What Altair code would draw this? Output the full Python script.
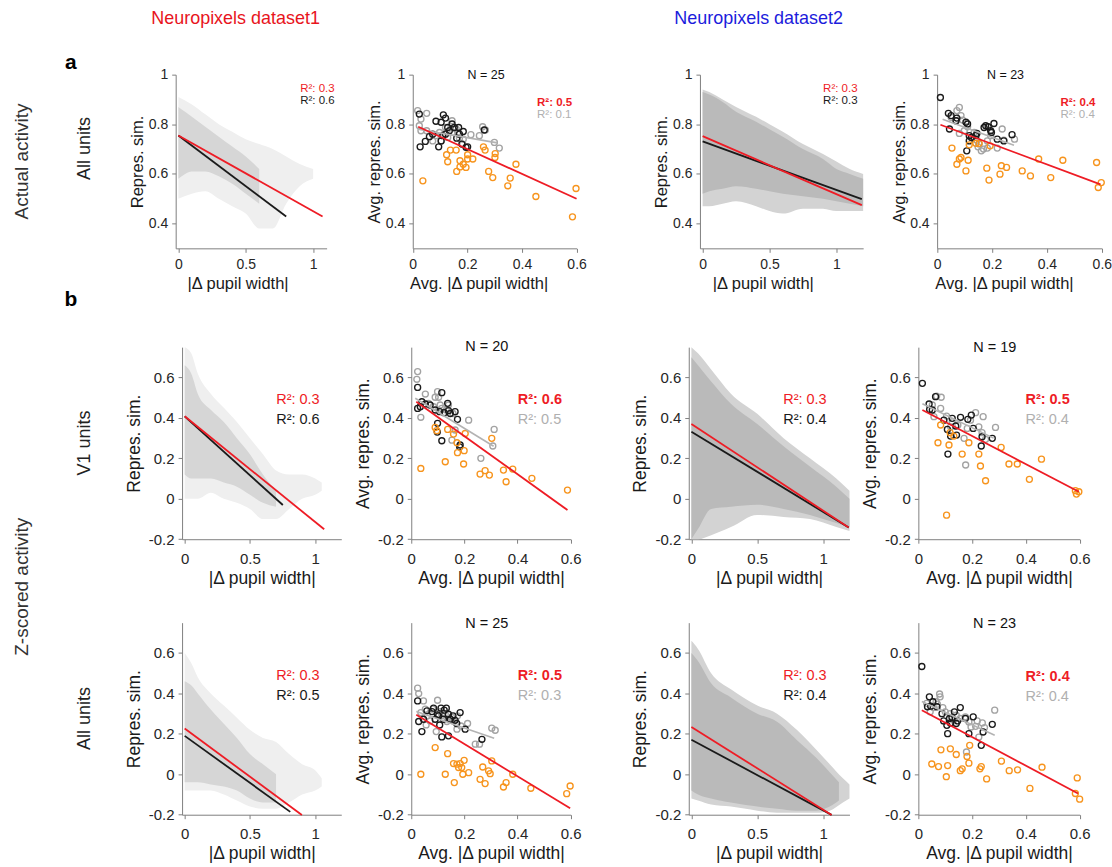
import altair as alt
import pandas as pd

FONT = "Liberation Sans"
RED = "#ee1c25"
BLUE = "#1c1cdc"
ORANGE = "#f7941d"
BLACK = "#1a1a1a"
GREY = "#a3a3a3"
LBL = "(datum.value < 0 ? '-' : '') + format(abs(datum.value), '~g')"

# ---------------- data: row a (actual activity, all units) ----------------
A1_OUT_X = [0, 0.1, 0.2, 0.3, 0.4, 0.5, 0.6, 0.7, 0.8, 0.9, 1.0]
A1_OUT_HI = [0.91, 0.88, 0.84, 0.80, 0.77, 0.74, 0.72, 0.70, 0.67, 0.64, 0.62]
A1_OUT_LO = [0.50, 0.52, 0.53, 0.50, 0.47, 0.44, 0.38, 0.38, 0.48, 0.55, 0.58]
A1_CORE_X = [0, 0.05, 0.1, 0.2, 0.3, 0.4, 0.5, 0.6]
A1_CORE_HI = [0.87, 0.85, 0.83, 0.79, 0.75, 0.71, 0.67, 0.62]
A1_CORE_LO = [0.58, 0.60, 0.61, 0.61, 0.59, 0.56, 0.52, 0.48]
A1_RED = ([0, 1.07], [0.755, 0.428])
A1_BLK = ([0, 0.80], [0.755, 0.428])

A3_X = [0, 0.05, 0.15, 0.25, 0.4, 0.5, 0.6, 0.75, 0.9, 1.0, 1.1, 1.2]
A3_OUT_HI = [0.94, 0.93, 0.90, 0.87, 0.83, 0.80, 0.77, 0.72, 0.68, 0.65, 0.62, 0.60]
A3_OUT_LO = [0.47, 0.47, 0.48, 0.49, 0.47, 0.45, 0.44, 0.46, 0.46, 0.45, 0.45, 0.45]
A3_CORE_HI = [0.93, 0.92, 0.89, 0.85, 0.81, 0.78, 0.75, 0.70, 0.66, 0.62, 0.60, 0.58]
A3_CORE_LO = [0.52, 0.53, 0.54, 0.55, 0.54, 0.53, 0.52, 0.51, 0.50, 0.49, 0.48, 0.47]
A3_RED = ([0, 1.19], [0.752, 0.474])
A3_BLK = ([0, 1.19], [0.731, 0.498])

A2_OR_X = [0.037, 0.124, 0.128, 0.138, 0.159, 0.161, 0.173, 0.173, 0.185, 0.195, 0.201, 0.201, 0.220,
           0.259, 0.265, 0.278, 0.293, 0.301, 0.302, 0.348, 0.357, 0.378, 0.451, 0.585, 0.598]
A2_OR_Y = [0.572, 0.677, 0.649, 0.696, 0.696, 0.610, 0.653, 0.628, 0.639, 0.626, 0.677, 0.660, 0.660,
           0.709, 0.696, 0.610, 0.585, 0.666, 0.682, 0.552, 0.583, 0.639, 0.509, 0.427, 0.541]
A2_BK_X = [0.024, 0.027, 0.046, 0.061, 0.085, 0.095, 0.104, 0.110, 0.112, 0.120, 0.120, 0.128, 0.134,
           0.144, 0.152, 0.161, 0.168, 0.180, 0.185, 0.195, 0.201, 0.262, 0.104, 0.073, 0.171]
A2_BK_Y = [0.841, 0.709, 0.731, 0.750, 0.812, 0.709, 0.808, 0.754, 0.838, 0.825, 0.760, 0.787, 0.774,
           0.801, 0.787, 0.744, 0.787, 0.720, 0.771, 0.707, 0.709, 0.777, 0.733, 0.760, 0.760]
A2_GR_X = [0.018, 0.030, 0.051, 0.030, 0.051, 0.098, 0.104, 0.120, 0.144, 0.146, 0.159, 0.171, 0.185,
           0.213, 0.244, 0.256, 0.266, 0.299, 0.317, 0.073, 0.085, 0.128, 0.183, 0.024, 0.165]
A2_GR_Y = [0.855, 0.821, 0.844, 0.774, 0.774, 0.767, 0.733, 0.787, 0.814, 0.767, 0.781, 0.744, 0.740,
           0.758, 0.754, 0.790, 0.777, 0.727, 0.704, 0.733, 0.754, 0.747, 0.720, 0.794, 0.767]
A2_RED = ([0.02, 0.60], [0.79, 0.50])
A2_GRL = ([0.02, 0.31], [0.78, 0.725])

A4_OR_X = [0.054, 0.072, 0.081, 0.087, 0.105, 0.113, 0.117, 0.141, 0.153, 0.181, 0.189, 0.193, 0.229,
           0.234, 0.253, 0.310, 0.340, 0.370, 0.414, 0.458, 0.581, 0.587, 0.598]
A4_OR_Y = [0.704, 0.639, 0.660, 0.666, 0.612, 0.655, 0.717, 0.723, 0.723, 0.623, 0.575, 0.713, 0.599,
           0.633, 0.626, 0.612, 0.592, 0.660, 0.585, 0.655, 0.646, 0.545, 0.565]
A4_BK_X = [0.012, 0.041, 0.045, 0.051, 0.072, 0.105, 0.108, 0.111, 0.117, 0.125, 0.141, 0.145, 0.171,
           0.177, 0.186, 0.195, 0.198, 0.207, 0.219, 0.243, 0.273, 0.117, 0.069]
A4_BK_Y = [0.908, 0.844, 0.781, 0.835, 0.825, 0.808, 0.693, 0.801, 0.754, 0.747, 0.754, 0.763, 0.787,
           0.794, 0.790, 0.774, 0.767, 0.803, 0.740, 0.733, 0.758, 0.733, 0.814]
A4_GR_X = [0.051, 0.069, 0.081, 0.087, 0.072, 0.093, 0.081, 0.125, 0.145, 0.149, 0.153, 0.161, 0.169,
           0.183, 0.183, 0.219, 0.237, 0.243, 0.282, 0.195, 0.135, 0.111, 0.099]
A4_GR_Y = [0.828, 0.814, 0.868, 0.835, 0.855, 0.817, 0.763, 0.747, 0.736, 0.709, 0.720, 0.693, 0.700,
           0.733, 0.704, 0.704, 0.781, 0.736, 0.740, 0.754, 0.767, 0.790, 0.774]
A4_RED = ([0.012, 0.595], [0.798, 0.558])
A4_GRL = ([0.02, 0.28], [0.82, 0.715])

# ---------------- data: row b (z-scored, V1 units) ----------------
B1_OUT_X = [0, 0.05, 0.1, 0.2, 0.3, 0.4, 0.5, 0.6, 0.7, 0.8, 0.9, 1.0, 1.05]
B1_OUT_HI = [0.75, 0.72, 0.62, 0.52, 0.45, 0.38, 0.30, 0.22, 0.14, 0.12, 0.12, 0.10, 0.08]
B1_OUT_LO = [0.0, 0.0, 0.0, 0.03, 0.0, -0.02, -0.05, -0.10, -0.10, -0.05, 0.0, 0.02, 0.04]
B1_CORE_X = [0, 0.05, 0.1, 0.2, 0.3, 0.4, 0.5, 0.6, 0.7]
B1_CORE_HI = [0.66, 0.62, 0.52, 0.44, 0.38, 0.30, 0.22, 0.12, 0.04]
B1_CORE_LO = [0.12, 0.10, 0.10, 0.10, 0.08, 0.06, 0.02, -0.02, -0.04]
B1_RED = ([0, 1.069], [0.408, -0.151])
B1_BLK = ([0, 0.752], [0.408, -0.031])

B3_X = [0, 0.05, 0.15, 0.3, 0.5, 0.7, 0.9, 1.1, 1.2]
B3_OUT_HI = [0.75, 0.72, 0.64, 0.52, 0.42, 0.30, 0.20, 0.10, 0.04]
B3_OUT_LO = [-0.2, -0.2, -0.18, -0.14, -0.08, -0.09, -0.10, -0.14, -0.16]
B3_CORE_HI = [0.70, 0.66, 0.58, 0.47, 0.37, 0.26, 0.16, 0.06, 0.0]
B3_CORE_LO = [-0.2, -0.15, -0.05, -0.04, -0.03, -0.05, -0.08, -0.12, -0.14]
B3_RED = ([0, 1.194], [0.370, -0.142])
B3_BLK = ([0, 1.194], [0.332, -0.142])

B2_OR_X = [0.036, 0.090, 0.096, 0.128, 0.137, 0.159, 0.172, 0.174, 0.197, 0.199, 0.203, 0.259, 0.278,
           0.294, 0.303, 0.347, 0.357, 0.382, 0.454, 0.588]
B2_OR_Y = [0.150, 0.353, 0.337, 0.183, 0.343, 0.320, 0.277, 0.228, 0.172, 0.238, 0.323, 0.122, 0.139,
           0.117, 0.299, 0.142, 0.084, 0.147, 0.101, 0.043]
B2_BK_X = [0.024, 0.024, 0.040, 0.053, 0.098, 0.099, 0.107, 0.115, 0.115, 0.124, 0.137, 0.140, 0.147,
           0.165, 0.174, 0.184, 0.182, 0.034, 0.071, 0.090]
B2_BK_Y = [0.551, 0.447, 0.480, 0.469, 0.330, 0.373, 0.431, 0.525, 0.287, 0.426, 0.472, 0.436, 0.422,
           0.431, 0.393, 0.266, 0.257, 0.455, 0.464, 0.439]
B2_GR_X = [0.024, 0.021, 0.036, 0.053, 0.090, 0.099, 0.109, 0.115, 0.140, 0.153, 0.165, 0.216, 0.262,
           0.307, 0.312, 0.103, 0.065, 0.132, 0.157, 0.084]
B2_GR_Y = [0.629, 0.591, 0.403, 0.518, 0.502, 0.530, 0.464, 0.447, 0.464, 0.290, 0.340, 0.389, 0.200,
           0.261, 0.343, 0.502, 0.472, 0.439, 0.422, 0.455]
B2_RED = ([0.019, 0.588], [0.48, -0.056])
B2_GRL = ([0.015, 0.31], [0.497, 0.26])

B4_OR_X = [0.073, 0.114, 0.118, 0.132, 0.163, 0.188, 0.225, 0.231, 0.250, 0.308, 0.337, 0.368, 0.413,
           0.458, 0.584, 0.588, 0.597, 0.105, 0.083]
B4_OR_Y = [0.277, 0.266, 0.327, 0.310, 0.221, 0.277, 0.221, 0.162, 0.089, 0.254, 0.172, 0.172, 0.096,
           0.196, 0.040, 0.023, 0.035, -0.081, 0.365]
B4_BK_X = [0.015, 0.040, 0.042, 0.064, 0.108, 0.110, 0.120, 0.126, 0.139, 0.142, 0.157, 0.184, 0.197,
           0.204, 0.234, 0.237, 0.275, 0.095, 0.052]
B4_BK_Y = [0.571, 0.469, 0.442, 0.505, 0.343, 0.221, 0.310, 0.398, 0.360, 0.315, 0.403, 0.393, 0.414,
           0.348, 0.261, 0.307, 0.299, 0.389, 0.439]
B4_GR_X = [0.068, 0.085, 0.083, 0.105, 0.126, 0.147, 0.176, 0.170, 0.182, 0.213, 0.225, 0.237, 0.241,
           0.250, 0.287, 0.052, 0.120, 0.194, 0.058]
B4_GR_Y = [0.508, 0.502, 0.447, 0.409, 0.381, 0.365, 0.167, 0.299, 0.348, 0.426, 0.356, 0.327, 0.406,
           0.294, 0.353, 0.464, 0.356, 0.389, 0.406]
B4_RED = ([0.015, 0.597], [0.439, 0.035])
B4_GRL = ([0.015, 0.28], [0.47, 0.30])

# ---------------- data: row c (z-scored, all units) ----------------
C1_OUT_X = [0, 0.05, 0.1, 0.2, 0.3, 0.4, 0.5, 0.6, 0.7, 0.8, 0.9, 1.0, 1.05]
C1_OUT_HI = [0.60, 0.55, 0.48, 0.40, 0.34, 0.28, 0.22, 0.18, 0.16, 0.10, 0.05, 0.02, -0.02]
C1_OUT_LO = [-0.08, -0.08, -0.08, -0.08, -0.10, -0.13, -0.16, -0.17, -0.17, -0.14, -0.10, -0.08, -0.06]
C1_CORE_X = [0, 0.05, 0.1, 0.2, 0.3, 0.4, 0.5, 0.6, 0.7]
C1_CORE_HI = [0.46, 0.44, 0.40, 0.32, 0.25, 0.18, 0.10, 0.05, 0.0]
C1_CORE_LO = [-0.04, -0.04, -0.04, -0.05, -0.06, -0.08, -0.12, -0.14, -0.14]
C1_RED = ([0, 0.898], [0.226, -0.201])
C1_BLK = ([0, 0.809], [0.190, -0.186])

C3_OUT_X = [0, 0.05, 0.15, 0.3, 0.5, 0.65, 0.8, 0.95, 1.05, 1.15, 1.2]
C3_OUT_HI = [0.66, 0.62, 0.50, 0.42, 0.34, 0.30, 0.22, 0.12, 0.05, -0.02, -0.05]
C3_OUT_LO = [-0.12, -0.13, -0.15, -0.16, -0.18, -0.19, -0.19, -0.19, -0.18, -0.14, -0.12]
C3_CORE_X = [0, 0.05, 0.15, 0.3, 0.5, 0.65, 0.8, 0.95, 1.05, 1.12]
C3_CORE_HI = [0.60, 0.56, 0.45, 0.38, 0.30, 0.26, 0.17, 0.08, 0.01, -0.04]
C3_CORE_LO = [-0.08, -0.10, -0.12, -0.14, -0.16, -0.17, -0.18, -0.18, -0.16, -0.13]
C3_RED = ([0, 1.064], [0.234, -0.201])
C3_BLK = ([0, 1.064], [0.171, -0.201])

C2_OR_X = [0.036, 0.090, 0.128, 0.137, 0.159, 0.162, 0.172, 0.178, 0.184, 0.190, 0.194, 0.199, 0.216,
           0.259, 0.269, 0.278, 0.291, 0.297, 0.303, 0.347, 0.357, 0.382, 0.450, 0.585, 0.598]
C2_OR_Y = [0.000, 0.132, 0.000, 0.102, 0.053, -0.041, 0.050, 0.033, 0.053, 0.033, 0.000, 0.069, 0.008,
           -0.025, 0.036, -0.046, 0.017, 0.003, 0.066, -0.063, -0.041, 0.000, -0.069, -0.096, -0.058]
C2_BK_X = [0.024, 0.028, 0.040, 0.046, 0.078, 0.084, 0.090, 0.099, 0.107, 0.112, 0.115, 0.124, 0.132,
           0.140, 0.140, 0.147, 0.157, 0.165, 0.184, 0.203, 0.266, 0.059, 0.121, 0.171, 0.103]
C2_BK_Y = [0.363, 0.261, 0.211, 0.272, 0.310, 0.327, 0.272, 0.294, 0.244, 0.327, 0.185, 0.317, 0.327,
           0.297, 0.190, 0.272, 0.289, 0.267, 0.305, 0.223, 0.173, 0.314, 0.272, 0.251, 0.289]
C2_GR_X = [0.024, 0.028, 0.046, 0.053, 0.056, 0.081, 0.099, 0.109, 0.115, 0.134, 0.153, 0.172, 0.187,
           0.212, 0.241, 0.257, 0.303, 0.316, 0.094, 0.061, 0.128, 0.159, 0.071, 0.036, 0.174]
C2_GR_Y = [0.426, 0.399, 0.363, 0.322, 0.244, 0.322, 0.366, 0.310, 0.289, 0.261, 0.281, 0.223, 0.239,
           0.251, 0.149, 0.149, 0.228, 0.218, 0.211, 0.289, 0.297, 0.264, 0.264, 0.305, 0.289]
C2_RED = ([0.019, 0.598], [0.294, -0.168])
C2_GRL = ([0.019, 0.312], [0.31, 0.178])

C4_OR_X = [0.050, 0.075, 0.104, 0.109, 0.084, 0.119, 0.141, 0.156, 0.163, 0.181, 0.188, 0.191, 0.229,
           0.234, 0.254, 0.309, 0.338, 0.369, 0.415, 0.460, 0.584, 0.591, 0.600]
C4_OR_Y = [0.051, 0.038, -0.012, 0.043, 0.121, 0.126, 0.098, 0.018, 0.027, 0.088, 0.055, 0.143, 0.027,
           0.038, -0.023, 0.065, 0.018, 0.022, -0.070, 0.035, -0.095, -0.018, -0.123]
C4_BK_X = [0.013, 0.041, 0.046, 0.054, 0.106, 0.109, 0.116, 0.125, 0.134, 0.141, 0.156, 0.188, 0.204,
           0.234, 0.241, 0.275, 0.094, 0.146, 0.069, 0.119, 0.175, 0.088, 0.034]
C4_BK_Y = [0.533, 0.383, 0.337, 0.359, 0.242, 0.201, 0.276, 0.281, 0.309, 0.251, 0.330, 0.201, 0.284,
           0.143, 0.209, 0.247, 0.264, 0.264, 0.334, 0.254, 0.276, 0.300, 0.334]
C4_GR_X = [0.044, 0.056, 0.071, 0.079, 0.081, 0.091, 0.100, 0.119, 0.156, 0.175, 0.179, 0.196, 0.213,
           0.238, 0.225, 0.246, 0.284, 0.188, 0.141, 0.066, 0.031, 0.131, 0.219]
C4_GR_Y = [0.309, 0.330, 0.347, 0.397, 0.383, 0.330, 0.309, 0.300, 0.276, 0.284, 0.110, 0.234, 0.237,
           0.254, 0.184, 0.231, 0.317, 0.259, 0.292, 0.359, 0.351, 0.267, 0.264]
C4_RED = ([0.013, 0.594], [0.317, -0.095])
C4_GRL = ([0.013, 0.284], [0.36, 0.193])

# ---------------- helpers ----------------
def encs(p):
    off = p["off"]
    xkw = dict(values=p["xvals"], title=p["xtitle"], labelFontSize=p["lab"],
               titleFontSize=p["tit"], titleY=p["xty"], titleBaseline="middle", titleAlign="center",
               labelPadding=p["xpad"], labelExpr=LBL)
    if "xtx" in p:
        xkw["titleX"] = p["xtx"] + off
    X = alt.X("x:Q", scale=alt.Scale(domain=p["xdom"], range=[off, off + p["w"]], nice=False, zero=False),
              axis=alt.Axis(**xkw))
    ykw = dict(values=p["yvals"], title=p["ytitle"], labelFontSize=p["lab"],
               titleFontSize=p["tit"], titleX=p["ytx"], titleY=p["h"] / 2,
               titleAngle=270, titleAlign="center", titleBaseline="middle",
               labelPadding=4, labelExpr=LBL)
    if off:
        ykw["offset"] = -off
    Y = alt.Y("y:Q", scale=alt.Scale(domain=p["ydom"], nice=False, zero=False), axis=alt.Axis(**ykw))
    return X, Y


def txt(s, x, y, color, size, weight="normal", align="left", angle=0):
    kw = dict(align=align, baseline="middle", font=FONT, fontSize=size, color=color, fontWeight=weight)
    if angle:
        kw["angle"] = angle
    return alt.Chart(pd.DataFrame({"t": [s]})).mark_text(**kw).encode(
        x=alt.value(x), y=alt.value(y), text="t:N")


def area(p, xs, hi, lo, color):
    X, Y = encs(p)
    df = pd.DataFrame({"x": xs, "y": hi, "y2": lo})
    return alt.Chart(df).mark_area(color=color, interpolate="monotone").encode(x=X, y=Y, y2="y2:Q")


def line(p, pts, color, w=1.8):
    X, Y = encs(p)
    df = pd.DataFrame({"x": pts[0], "y": pts[1]})
    return alt.Chart(df).mark_line(color=color, strokeWidth=w).encode(x=X, y=Y)


def circles(p, xs, ys, color):
    X, Y = encs(p)
    df = pd.DataFrame({"x": xs, "y": ys})
    return alt.Chart(df).mark_point(shape="circle", filled=False, size=36, strokeWidth=1.35,
                                    color=color, opacity=1).encode(x=X, y=Y)


def scatter_panel(p, clouds, red, blk, r2r, r2k, rpos):
    o = p["off"]
    layers = [area(p, *c) for c in clouds]
    layers += [line(p, blk, BLACK), line(p, red, RED)]
    layers += [txt("R\u00b2: " + r2r, rpos[0] + o, rpos[1], RED, p["r2"]),
               txt("R\u00b2: " + r2k, rpos[0] + o, rpos[2], BLACK, p["r2"])]
    return alt.layer(*layers).properties(width=p["W"], height=p["h"])


def avg_panel(p, gr, bk, orr, red, grl, n, r2r, r2g, npos, rpos):
    o = p["off"]
    layers = [circles(p, gr[0], gr[1], GREY), circles(p, bk[0], bk[1], BLACK),
              circles(p, orr[0], orr[1], ORANGE), line(p, grl, "#b3b3b3", 1.6), line(p, red, RED, 1.8)]
    layers += [txt("N = " + n, npos[0] + o, npos[1], "#111111", p["nfs"], align="center"),
               txt("R\u00b2: " + r2r, rpos[0] + o, rpos[1], RED, p["r2"], weight="bold"),
               txt("R\u00b2: " + r2g, rpos[0] + o, rpos[2], "#b0b0b0", p["r2"])]
    return alt.layer(*layers).properties(width=p["W"], height=p["h"])


def blank(w, h):
    return alt.Chart(pd.DataFrame({"t": [""]})).mark_text(fontSize=1).encode(
        x=alt.value(0), y=alt.value(h / 2), text="t:N").properties(width=w, height=h)


# grid column widths (identical in every row)
COLW = [175.3, 165.9, 69.8, 165.6, 111.5, 174.7, 54.9, 183.8]

ROWA = dict(h=174, ydom=[0.3, 1], yvals=[0.4, 0.6, 0.8, 1], lab=14, tit=16.5, xty=35, xpad=5,
            ytx=-38, r2=11.5, nfs=12.5)
ROWBC = dict(h=192.4, ydom=[-0.2, 0.75], yvals=[-0.2, 0, 0.2, 0.4, 0.6], lab=15, tit=17.5, xty=39,
             xpad=8, ytx=-48, r2=14.5, nfs=14.5)
SC = dict(xtitle="|\u0394 pupil width|", ytitle="Repres. sim.")
AV = dict(xtitle="Avg. |\u0394 pupil width|", ytitle="Avg. repres. sim.", xvals=[0, 0.2, 0.4, 0.6])

pA1 = dict(ROWA, **SC, W=COLW[1], off=0.0, w=151.2, xdom=[-0.02, 1.1], xvals=[0, 0.5, 1], xtx=62)
pA2 = dict(ROWA, **AV, W=COLW[3], off=1.5, w=164.1, xdom=[0, 0.6], xtx=66)
pA3 = dict(ROWA, **SC, W=COLW[5], off=11.2, w=163.5, xdom=[-0.02, 1.2], xvals=[0, 0.5, 1], xtx=63)
pA4 = dict(ROWA, **AV, W=COLW[7], off=18.8, w=165.0, xdom=[0, 0.6], xtx=67)
pB1 = dict(ROWBC, **SC, W=COLW[1], off=6.4, w=159.5, xdom=[-0.02, 1.2], xvals=[0, 0.5, 1])
pB2 = dict(ROWBC, **AV, W=COLW[3], off=0.0, w=159.7, xdom=[0, 0.6])
pB3 = dict(ROWBC, **SC, W=COLW[5], off=0.0, w=161.0, xdom=[-0.02, 1.2], xvals=[0, 0.5, 1])
pB4 = dict(ROWBC, **AV, W=COLW[7], off=0.0, w=161.6, xdom=[0, 0.6])

L1OUT, L1CORE = "#efefef", "#d6d6d6"
L2OUT, L2CORE = "#d3d3d3", "#bababa"

a1 = scatter_panel(pA1, [(A1_OUT_X, A1_OUT_HI, A1_OUT_LO, L1OUT), (A1_CORE_X, A1_CORE_HI, A1_CORE_LO, L1CORE)],
                   A1_RED, A1_BLK, "0.3", "0.6", (124.7, 14, 26))
a2 = avg_panel(pA2, (A2_GR_X, A2_GR_Y), (A2_BK_X, A2_BK_Y), (A2_OR_X, A2_OR_Y), A2_RED, A2_GRL,
               "25", "0.5", "0.1", (73.5, 0), (124.5, 28, 40))
a3 = scatter_panel(pA3, [(A3_X, A3_OUT_HI, A3_OUT_LO, L2OUT), (A3_X, A3_CORE_HI, A3_CORE_LO, L2CORE)],
                   A3_RED, A3_BLK, "0.3", "0.3", (123.4, 14, 26))
a4 = avg_panel(pA4, (A4_GR_X, A4_GR_Y), (A4_BK_X, A4_BK_Y), (A4_OR_X, A4_OR_Y), A4_RED, A4_GRL,
               "23", "0.4", "0.4", (68.5, 0), (123.5, 28, 40))

b1 = scatter_panel(pB1, [(B1_OUT_X, B1_OUT_HI, B1_OUT_LO, L1OUT), (B1_CORE_X, B1_CORE_HI, B1_CORE_LO, L1CORE)],
                   B1_RED, B1_BLK, "0.3", "0.6", (94.3, 53, 72.5))
b2 = avg_panel(pB2, (B2_GR_X, B2_GR_Y), (B2_BK_X, B2_BK_Y), (B2_OR_X, B2_OR_Y), B2_RED, B2_GRL,
               "20", "0.6", "0.5", (75.7, 0), (106.7, 53, 73))
b3 = scatter_panel(pB3, [(B3_X, B3_OUT_HI, B3_OUT_LO, L2OUT), (B3_X, B3_CORE_HI, B3_CORE_LO, L2CORE)],
                   B3_RED, B3_BLK, "0.3", "0.4", (94.6, 53, 72.5))
b4 = avg_panel(pB4, (B4_GR_X, B4_GR_Y), (B4_BK_X, B4_BK_Y), (B4_OR_X, B4_OR_Y), B4_RED, B4_GRL,
               "19", "0.5", "0.4", (76.5, 1), (107.3, 53, 73))

c1 = scatter_panel(pB1, [(C1_OUT_X, C1_OUT_HI, C1_OUT_LO, L1OUT), (C1_CORE_X, C1_CORE_HI, C1_CORE_LO, L1CORE)],
                   C1_RED, C1_BLK, "0.3", "0.5", (94.3, 53, 73))
c2 = avg_panel(pB2, (C2_GR_X, C2_GR_Y), (C2_BK_X, C2_BK_Y), (C2_OR_X, C2_OR_Y), C2_RED, C2_GRL,
               "25", "0.5", "0.3", (75.7, 1), (106.7, 53, 73))
c3 = scatter_panel(pB3, [(C3_OUT_X, C3_OUT_HI, C3_OUT_LO, L2OUT), (C3_CORE_X, C3_CORE_HI, C3_CORE_LO, L2CORE)],
                   C3_RED, C3_BLK, "0.3", "0.4", (94.6, 53, 73))
c4 = avg_panel(pB4, (C4_GR_X, C4_GR_Y), (C4_BK_X, C4_BK_Y), (C4_OR_X, C4_OR_Y), C4_RED, C4_GRL,
               "23", "0.4", "0.4", (76.3, 1), (107.3, 54.7, 74.7))

# ---------------- label column (row / column headings) ----------------
HA, HB = 174, 192.4
anchor = alt.Chart(pd.DataFrame({"t": [0]})).mark_rule(color="white", strokeWidth=1).encode(
    x=alt.value(0.5), x2=alt.value(1.5), y=alt.value(-73.5), y2=alt.value(-73.5))

lab_a = alt.layer(
    anchor,
    txt("Neuropixels dataset1", 236, -56, "#e8141c", 18, align="center"),
    txt("Neuropixels dataset2", 760, -56, BLUE, 18, align="center"),
    txt("a", 71, -12, "#000000", 21, weight="bold", align="center"),
    txt("Actual activity", 22, 87, "#333333", 19, align="center", angle=270),
    txt("All units", 85, 74, "#222222", 18, align="center", angle=270),
).properties(width=COLW[0], height=HA)

lab_b = alt.layer(
    txt("b", 71, -47, "#000000", 21, weight="bold", align="center"),
    txt("Z-scored activity", 22, 240, "#333333", 19, align="center", angle=270),
    txt("V1 units", 85, 96, "#222222", 18, align="center", angle=270),
).properties(width=COLW[0], height=HB)

lab_c = alt.layer(
    txt("All units", 85, 96, "#222222", 18, align="center", angle=270),
).properties(width=COLW[0], height=HB)

G1, G2 = 98.9, 82.7
cells = [
    lab_a, a1, blank(COLW[2], HA), a2, blank(COLW[4], HA), a3, blank(COLW[6], HA), a4,
    *[blank(COLW[i], G1) for i in range(8)],
    lab_b, b1, blank(COLW[2], HB), b2, blank(COLW[4], HB), b3, blank(COLW[6], HB), b4,
    *[blank(COLW[i], G2) for i in range(8)],
    lab_c, c1, blank(COLW[2], HB), c2, blank(COLW[4], HB), c3, blank(COLW[6], HB), c4,
]

chart = alt.concat(*cells, columns=8, spacing=0, bounds="flush", align="each").properties(
    padding=0, background="white"
).configure_view(stroke=None).configure_axis(
    domainColor="#808080", tickColor="#808080", labelColor="#262626", titleColor="#1a1a1a",
    labelFont=FONT, titleFont=FONT, titleFontWeight="normal", grid=False, labelFlush=False,
    labelOverlap=False, tickSize=4, domainWidth=1, tickWidth=1
)

chart.save("out.html", embed_options={"renderer": "svg", "actions": False})
